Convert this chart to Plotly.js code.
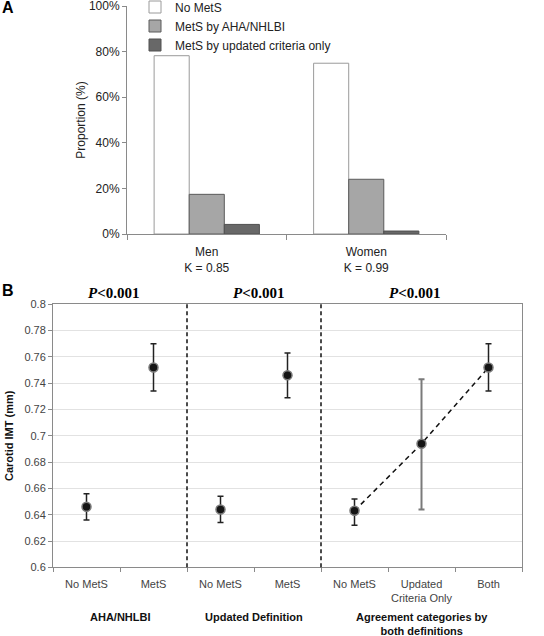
<!DOCTYPE html>
<html>
<head>
<meta charset="utf-8">
<script src="https://cdn.plot.ly/plotly-3.0.1.min.js"></script>
<style>html,body{margin:0;padding:0;background:#fff;}#chart{width:544px;height:636px;}</style>
</head>
<body>
<div id="chart"></div>
<script>
// ---------- Panel A data ----------
const barCategories = ['Men', 'Women'];
const kappaLabels = ['K = 0.85', 'K = 0.99'];
const barSeriesNames = ['No MetS', 'MetS by AHA/NHLBI', 'MetS by updated criteria only'];
const noMetS = [78.2, 74.9];
const metsAHA = [17.4, 24.0];
const metsUpdatedOnly = [4.2, 1.3];

// ---------- Panel B data ----------
const imtCategories = ['No MetS', 'MetS', 'No MetS', 'MetS', 'No MetS', 'Updated<br>Criteria Only', 'Both'];
const imtGroups = ['AHA/NHLBI', 'Updated Definition', 'Agreement categories by<br>both definitions'];
const imtGroupSizes = [2, 2, 3];
const imtMean = [0.646, 0.752, 0.644, 0.746, 0.643, 0.694, 0.752];
const imtErrPlus = [0.010, 0.018, 0.010, 0.017, 0.009, 0.049, 0.018];
const imtErrMinus = [0.010, 0.018, 0.010, 0.017, 0.011, 0.050, 0.018];
const pValueLabels = ['<i>P</i>&lt;0.001', '<i>P</i>&lt;0.001', '<i>P</i>&lt;0.001'];

const barX = barCategories.map((c, i) => c + '<br>' + kappaLabels[i]);
const barValues = [noMetS, metsAHA, metsUpdatedOnly];
const barFill = ['#ffffff', '#a6a6a6', '#686868'];
const barLine = ['#9a9a9a', '#5a5a5a', '#505050'];

const traces = [];
barValues.forEach((vals, k) => {
  traces.push({
    type: 'bar', x: barX, y: vals, name: barSeriesNames[k],
    xaxis: 'x', yaxis: 'y',
    marker: {color: barFill[k], line: {color: barLine[k], width: 1}},
    hoverinfo: 'y'
  });
});

// group index ranges
const groupStarts = [];
let acc = 0;
imtGroupSizes.forEach(s => { groupStarts.push(acc); acc += s; });
const idx = imtMean.map((_, i) => i);
const sel = (arr, ids) => ids.map(i => arr[i]);

const markerStyle = {color: '#151515', size: 9, line: {color: '#7a7a7a', width: 1.5}};

// dashed trend line for agreement group (drawn first, below markers)
const agreeIds = idx.slice(groupStarts[2], groupStarts[2] + imtGroupSizes[2]);
traces.push({
  type: 'scatter', mode: 'lines', x: agreeIds, y: sel(imtMean, agreeIds),
  xaxis: 'x2', yaxis: 'y2', showlegend: false,
  line: {color: '#111', width: 1.5, dash: '5px,4px'}, hoverinfo: 'skip'
});

function pointTrace(ids, errColor, thick) {
  return {
    type: 'scatter', mode: 'markers', x: ids, y: sel(imtMean, ids),
    xaxis: 'x2', yaxis: 'y2', showlegend: false,
    marker: markerStyle,
    error_y: {type: 'data', symmetric: false, array: sel(imtErrPlus, ids), arrayminus: sel(imtErrMinus, ids),
              color: errColor, thickness: thick, width: 3}
  };
}
traces.push(pointTrace(idx.slice(0, 4), '#222', 1.5));
traces.push(pointTrace([agreeIds[0], agreeIds[2]], '#222', 1.5));
traces.push(pointTrace([agreeIds[1]], '#7a7a7a', 2));

// boundaries between categories -> tick marks; between groups -> dashed separators
const boundaries = idx.concat([idx.length]).map(i => i - 0.5);
const sepShapes = groupStarts.slice(1).map(s => ({
  type: 'line', xref: 'x2', yref: 'y2 domain', x0: s - 0.5, x1: s - 0.5, y0: 0, y1: 1,
  line: {color: '#111', width: 1.5, dash: '4px,3px'}
}));

const groupCenters = groupStarts.map((s, g) => s + (imtGroupSizes[g] - 1) / 2);
const pOffsets = [-0.1, 0.07, -0.1];

const annotations = [
  {text: '<b>A</b>', xref: 'paper', yref: 'paper', x: 0, y: 1 - 8/636, xanchor: 'left', yanchor: 'middle',
   showarrow: false, font: {family: 'Liberation Sans, Arial', size: 16, color: '#000'}},
  {text: '<b>B</b>', xref: 'paper', yref: 'paper', x: 0, y: 1 - 290/636, xanchor: 'left', yanchor: 'middle',
   showarrow: false, font: {family: 'Liberation Sans, Arial', size: 16, color: '#000'}}
];
imtGroups.forEach((g, i) => {
  annotations.push({text: '<b>' + g + '</b>', xref: 'x2', yref: 'paper', x: groupCenters[i], y: 1 - 609/636,
    xanchor: 'center', yanchor: 'top', showarrow: false,
    font: {family: 'Liberation Sans, Arial', size: 11, color: '#111'}});
  annotations.push({text: '<b>' + pValueLabels[i] + '</b>', xref: 'x2', yref: 'paper', x: groupCenters[i] + pOffsets[i], y: 1 - 293/636,
    xanchor: 'center', yanchor: 'middle', showarrow: false,
    font: {family: 'Liberation Serif, Times New Roman', size: 15, color: '#000'}});
});

const layout = {
  width: 544, height: 636,
  margin: {l: 0, r: 0, t: 0, b: 0, autoexpand: false},
  paper_bgcolor: '#fff', plot_bgcolor: '#fff',
  font: {family: 'Liberation Sans, Arial', color: '#222'},
  barmode: 'group', bargap: 0.34, bargroupgap: 0,
  showlegend: true,
  legend: {x: 135/544, y: 1 + 7.5/636, xanchor: 'left', yanchor: 'top', bgcolor: 'rgba(0,0,0,0)',
           font: {size: 12, color: '#222'}, tracegroupgap: 0},
  xaxis: {domain: [127/544, 446/544], anchor: 'y', type: 'category',
          showline: true, linecolor: '#8a8a8a', linewidth: 1,
          ticks: 'outside', tickson: 'boundaries', ticklen: 5, tickcolor: '#8a8a8a', ticklabelstandoff: 7,
          tickfont: {size: 12, color: '#222'}, showgrid: false, zeroline: false, fixedrange: true},
  yaxis: {domain: [1 - 234/636, 1 - 6/636], anchor: 'x', range: [0, 100.001], tick0: 0, dtick: 20, ticksuffix: '%',
          ticklabeloverflow: 'allow',
          showline: true, linecolor: '#8a8a8a', ticks: 'outside', ticklen: 4, tickcolor: '#8a8a8a',
          tickfont: {size: 12, color: '#222'}, showgrid: false, zeroline: false,
          title: {text: 'Proportion (%)', font: {size: 12, color: '#222'}, standoff: 0}},
  xaxis2: {domain: [53/544, 522/544], anchor: 'y2', range: [-0.5, imtCategories.length - 0.5],
           tickmode: 'array', tickvals: idx, ticktext: imtCategories, ticks: '', ticklabelstandoff: 6,
           minor: {tickmode: 'array', tickvals: boundaries, ticks: 'outside', ticklen: 4, tickcolor: '#8a8a8a', showgrid: false},
           showline: true, mirror: true, linecolor: '#8a8a8a', linewidth: 1,
           tickfont: {size: 11, color: '#444'}, showgrid: false, zeroline: false},
  yaxis2: {domain: [1 - 567.3/636, 1 - 304.3/636], anchor: 'x2', range: [0.6, 0.8], dtick: 0.02, tickformat: '.2~f',
           ticklabeloverflow: 'allow',
           showline: true, mirror: true, linecolor: '#8a8a8a', ticks: 'outside', ticklen: 4, tickcolor: '#8a8a8a',
           showgrid: true, gridcolor: '#e2e2e2', gridwidth: 1, zeroline: false,
           tickfont: {size: 11, color: '#444'},
           title: {text: '<b>Carotid IMT (mm)</b>', font: {size: 11, color: '#111'}, standoff: 8}},
  shapes: sepShapes,
  annotations: annotations
};

Plotly.newPlot('chart', traces, layout, {displayModeBar: false, staticPlot: true});
</script>
</body>
</html>
